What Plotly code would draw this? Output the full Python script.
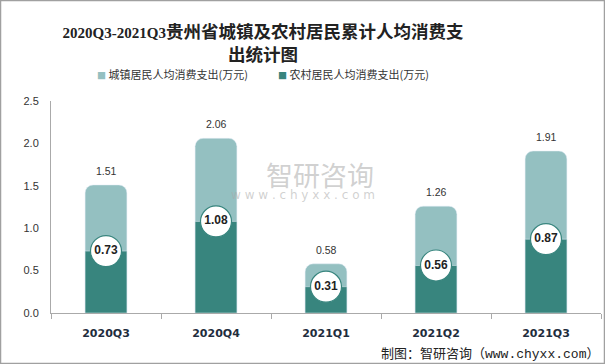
import plotly.graph_objects as go

categories = ["2020Q3", "2020Q4", "2021Q1", "2021Q2", "2021Q3"]
urban = [1.51, 2.06, 0.58, 1.26, 1.91]
rural = [0.73, 1.08, 0.31, 0.56, 0.87]
urban_name = "城镇居民人均消费支出(万元)"
rural_name = "农村居民人均消费支出(万元)"
title_text = ("<span style='font-size:15px'>2020Q3-2021Q3</span>贵州省城镇及农村居民累计人均消费支"
              "<br>出统计图")
y_ticks = [0, 0.5, 1.0, 1.5, 2.0, 2.5]

LIGHT = "#94C0C1"
DARK = "#38857E"
CJK = "Noto Sans CJK SC"

fig = go.Figure()
fig.add_trace(go.Bar(x=categories, y=urban, name=urban_name, marker=dict(color=LIGHT, cornerradius=8),
                     width=0.38, hoverinfo="skip", showlegend=False))
fig.add_trace(go.Bar(x=categories, y=rural, name=rural_name, marker=dict(color=DARK, cornerradius=8),
                     width=0.38, hoverinfo="skip", showlegend=False))
fig.add_trace(go.Scatter(x=categories, y=rural, mode="markers+text", text=[f"{v:.2f}" for v in rural],
                         textposition="middle center",
                         textfont=dict(family="Liberation Sans", size=12, color="#222222", weight="bold"),
                         marker=dict(size=31, color="white", line=dict(color=DARK, width=1.2)),
                         showlegend=False, hoverinfo="skip", cliponaxis=False))

annotations = []
for c, v in zip(categories, urban):
    annotations.append(dict(x=c, y=v, text=f"{v:.2f}", showarrow=False, yshift=14,
                            font=dict(family="Liberation Sans", size=10.5, color="#333333")))
# manual legend
for name, col, px in [(urban_name, LIGHT, 95), (rural_name, DARK, 276)]:
    annotations.append(dict(xref="paper", yref="paper", x=(px - 51) / 550, y=(313 - 74) / 212,
                            xanchor="left", yanchor="middle", showarrow=False,
                            text=f"<span style='color:{col};font-size:9px'>■</span> {name}",
                            font=dict(family=CJK, size=11, color="#333333")))
# watermark
annotations.append(dict(xref="paper", yref="paper", x=(320 - 51) / 550, y=(313 - 174) / 212,
                        text="智研咨询", showarrow=False,
                        font=dict(family=CJK, size=27, color="rgba(170,170,170,0.55)")))
annotations.append(dict(xref="paper", yref="paper", x=(303 - 51) / 550, y=(313 - 195) / 212,
                        text="w w w . c h y x x . c o m", showarrow=False,
                        font=dict(family="DejaVu Sans", size=12, color="rgba(170,170,170,0.55)")))
# footer
annotations.append(dict(xref="paper", yref="paper", x=(601 - 51) / 550, y=(313 - 352) / 212,
                        xanchor="right", yanchor="middle",
                        text="制图：智研咨询（<span style='font-family:Liberation Mono'>www.chyxx.com</span>）",
                        showarrow=False, font=dict(family=CJK, size=13, color="#222222")))

fig.update_layout(
    width=605, height=364,
    margin=dict(l=51, r=4, t=101, b=51),
    paper_bgcolor="white", plot_bgcolor="white",
    barmode="overlay",
    showlegend=False,
    title=dict(text=title_text, x=263 / 605, xanchor="center", y=1 - 38 / 364, yanchor="middle",
               font=dict(family="Liberation Serif, " + CJK, size=17.5, color="#222222", weight="bold")),
    xaxis=dict(type="category", showline=True, linecolor="#AAAAAA", linewidth=1, ticks="outside",
               tickson="boundaries", ticklen=5, tickcolor="#AAAAAA", showgrid=False, ticklabelstandoff=10,
               tickfont=dict(family="DejaVu Sans", size=11, color="#1F2D3D", weight="bold")),
    yaxis=dict(range=[0, 2.5], tickvals=y_ticks, tickformat=".1f", showline=True, linecolor="#AAAAAA",
               linewidth=1, showgrid=False, zeroline=False, ticks="outside", ticklen=9,
               tickcolor="rgba(0,0,0,0)",
               tickfont=dict(family="Liberation Sans", size=11, color="#333333")),
    annotations=annotations,
    shapes=[dict(type="rect", xref="paper", yref="paper",
                 x0=(0.5 - 51) / 550, x1=(604.5 - 51) / 550,
                 y0=(313 - 363.5) / 212, y1=(313 - 0.5) / 212,
                 line=dict(color="#A0A0A0", width=1.5))],
)
fig.write_html("out.html", config={"displayModeBar": False},
               post_script="document.body.style.margin='0';")
